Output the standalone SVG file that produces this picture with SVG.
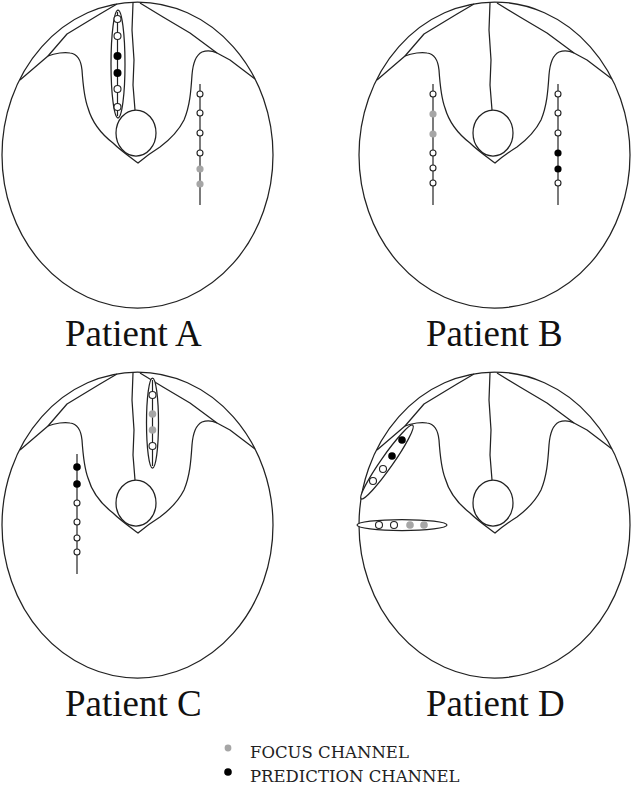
<svg xmlns="http://www.w3.org/2000/svg" xmlns:xlink="http://www.w3.org/1999/xlink" width="631" height="792" viewBox="0 0 631 792">
<style>
.ln{fill:none;stroke:#222;stroke-width:1.25;stroke-linejoin:round}
.enc{fill:#fff;stroke:#222;stroke-width:1.25}
.el{stroke:#222;stroke-width:1.2}
.o{fill:#fff;stroke:#222;stroke-width:1.1}
.k{fill:#000}
.g{fill:#a6a6a6}
.lab{font-family:"Liberation Serif","Times New Roman",serif;font-size:37px;fill:#111}
.leg{font-family:"DejaVu Serif",serif;font-size:16.5px;fill:#222}
</style>
<defs>
<g id="head">
<ellipse class="ln" cx="137.5" cy="155" rx="135.5" ry="153"/>
<path class="ln" d="M133,3 L132,30 L134,60 L133,85 L135,110"/>
<path class="ln" d="M117,4 L100,14 L67,34 L48,56"/>
<path class="ln" d="M140,3 L163,17 L190,33 L217,53"/>
<path class="ln" d="M20,80 L48,56 C55,53 65,52 70,53 C78,54 81,60 82,70 C83,85 85,100 88,108 C92,122 100,133 113,143 C120,150 130,157 138,163 C145,157 152,152 160,147 C172,138 180,128 184,120 C190,106 191,90 192,75 C193,62 196,55 202,52 C207,50 213,51 217,53 L230,60 L255,79"/>
<ellipse class="ln" cx="136" cy="133" rx="20" ry="23"/>
</g>
</defs>

<g id="patientA">
<use xlink:href="#head" href="#head"/>
<ellipse class="enc" cx="118" cy="64" rx="7" ry="54"/>
<line class="el" x1="117.5" y1="12" x2="117.5" y2="116"/>
<circle class="o" cx="117.5" cy="19" r="3.5"/>
<circle class="o" cx="117.5" cy="36" r="3.5"/>
<circle class="k" cx="117.5" cy="56" r="4"/>
<circle class="k" cx="117.5" cy="73" r="4"/>
<circle class="o" cx="117.5" cy="89" r="3.5"/>
<circle class="o" cx="117.5" cy="107" r="3.5"/>
<line class="el" x1="200" y1="84" x2="200" y2="205"/>
<circle class="o" cx="200" cy="94" r="3"/>
<circle class="o" cx="200" cy="113" r="3"/>
<circle class="o" cx="200" cy="133" r="3"/>
<circle class="o" cx="200" cy="153" r="3"/>
<circle class="g" cx="200" cy="169" r="3.6"/>
<circle class="g" cx="200" cy="184" r="3.6"/>
<text class="lab" x="65" y="346">Patient A</text>
</g>

<g id="patientB">
<use xlink:href="#head" href="#head" transform="translate(357,0)"/>
<line class="el" x1="433" y1="84" x2="433" y2="205"/>
<circle class="o" cx="433" cy="94" r="3"/>
<circle class="g" cx="433" cy="114" r="3.6"/>
<circle class="g" cx="433" cy="134" r="3.6"/>
<circle class="o" cx="433" cy="153" r="3"/>
<circle class="o" cx="433" cy="168" r="3"/>
<circle class="o" cx="433" cy="183" r="3"/>
<line class="el" x1="558" y1="84" x2="558" y2="205"/>
<circle class="o" cx="558" cy="94" r="3"/>
<circle class="o" cx="558" cy="113" r="3"/>
<circle class="o" cx="558" cy="133" r="3"/>
<circle class="k" cx="558" cy="153" r="3.6"/>
<circle class="k" cx="558" cy="169" r="3.6"/>
<circle class="o" cx="558" cy="183" r="3"/>
<text class="lab" x="426" y="346">Patient B</text>
</g>

<g id="patientC">
<use xlink:href="#head" href="#head" transform="translate(0,370)"/>
<ellipse class="enc" cx="152.5" cy="423" rx="6" ry="45"/>
<line class="el" x1="152.5" y1="380" x2="152.5" y2="466"/>
<circle class="o" cx="152.5" cy="395" r="3.5"/>
<circle class="g" cx="152.5" cy="414" r="3.8"/>
<circle class="g" cx="152.5" cy="430" r="3.8"/>
<circle class="o" cx="152.5" cy="446" r="3.5"/>
<line class="el" x1="77" y1="454" x2="77" y2="574"/>
<circle class="k" cx="77" cy="467" r="3.8"/>
<circle class="k" cx="77" cy="484" r="3.8"/>
<circle class="o" cx="77" cy="503" r="3"/>
<circle class="o" cx="77" cy="522" r="3"/>
<circle class="o" cx="77" cy="538" r="3"/>
<circle class="o" cx="77" cy="552" r="3"/>
<text class="lab" x="65" y="716">Patient C</text>
</g>

<g id="patientD">
<use xlink:href="#head" href="#head" transform="translate(357,370)"/>
<ellipse class="enc" cx="387" cy="462" rx="45" ry="6" transform="rotate(-55 387 462)"/>
<circle class="k" cx="402" cy="440" r="3.8"/>
<circle class="k" cx="392" cy="456" r="3.8"/>
<circle class="o" cx="383" cy="469" r="3.5"/>
<circle class="o" cx="373" cy="481" r="3.5"/>
<ellipse class="enc" cx="402" cy="525" rx="45" ry="5.5"/>
<circle class="o" cx="379" cy="525" r="3.5"/>
<circle class="o" cx="394" cy="525" r="3.5"/>
<circle class="g" cx="410" cy="525" r="3.8"/>
<circle class="g" cx="424" cy="525" r="3.8"/>
<text class="lab" x="426" y="716">Patient D</text>
</g>

<g id="legend">
<circle class="g" cx="228" cy="748" r="3.4"/>
<text class="leg" x="250" y="758">FOCUS CHANNEL</text>
<circle class="k" cx="228" cy="772" r="3.8"/>
<text class="leg" x="250" y="782">PREDICTION CHANNEL</text>
</g>
</svg>
